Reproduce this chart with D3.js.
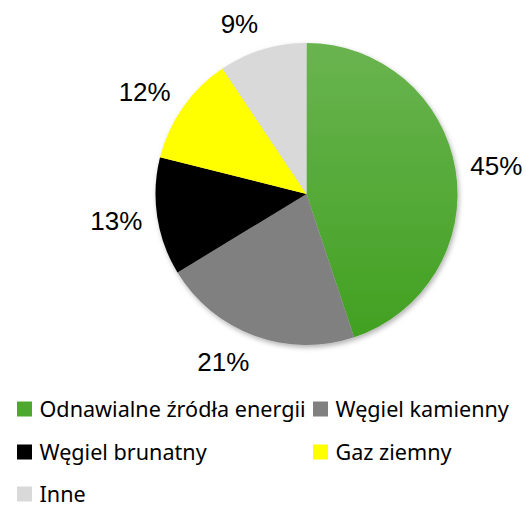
<!DOCTYPE html>
<html><head><meta charset="utf-8">
<script src="https://cdn.jsdelivr.net/npm/d3@7"></script>
<style>body{margin:0;background:#fff}svg{display:block}</style>
</head><body>
<script>
const categories = ["Odnawialne źródła energii", "Węgiel kamienny", "Węgiel brunatny", "Gaz ziemny", "Inne"];
const values = [44.9, 21.4, 12.6, 11.7, 9.4];
const colors = ["url(#greenGrad)", "#808080", "#000000", "#ffff00", "#d9d9d9"];
const legendColors = ["#4ea72e", "#808080", "#000000", "#ffff00", "#d9d9d9"];

const W = 526, H = 505;
const cx = 306.5, cy = 194, r = 151;
const svg = d3.select("body").append("svg").attr("width", W).attr("height", H);
const defs = svg.append("defs");
const g1 = defs.append("linearGradient").attr("id", "greenGrad")
  .attr("gradientUnits", "userSpaceOnUse").attr("x1", 0).attr("y1", -r).attr("x2", 0).attr("y2", r);
g1.append("stop").attr("offset", "0%").attr("stop-color", "#6ab450");
g1.append("stop").attr("offset", "100%").attr("stop-color", "#40a020");
const f = defs.append("filter").attr("id", "shadow").attr("x", "-20%").attr("y", "-20%").attr("width", "140%").attr("height", "140%");
f.append("feDropShadow").attr("dx", 1.5).attr("dy", 2.5).attr("stdDeviation", 2.5).attr("flood-color", "#000").attr("flood-opacity", 0.3);

const total = d3.sum(values);
const pie = d3.pie().sort(null).value(d => d);
const arcs = pie(values);
const arc = d3.arc().innerRadius(0).outerRadius(r);

const gp = svg.append("g").attr("transform", `translate(${cx},${cy})`).attr("filter", "url(#shadow)");
gp.selectAll("path").data(arcs).join("path")
  .attr("d", arc).attr("fill", (d, i) => colors[i]);

const fmt = v => d3.format(".0f")(v / total * 100) + "%";
const labelFont = 26;
const lg = svg.append("g").attr("transform", `translate(${cx},${cy})`)
  .style("font-family", "'Liberation Sans', Arial, sans-serif").style("font-size", labelFont + "px").attr("fill", "#000");
arcs.forEach((a, i) => {
  const t = lg.append("text").text(fmt(a.value)).attr("text-anchor", "middle");
  const w = t.node().getComputedTextLength();
  const h = 24;
  const th = (a.startAngle + a.endAngle) / 2;
  const s = Math.sin(th), c = Math.cos(th);
  const d = r + 15;
  const x = d * s + Math.sign(s) * (w / 2);
  const y = -d * c - (h / 2) * c;
  t.attr("x", x).attr("y", y + 9.5);
});

// legend
const leg = svg.append("g").style("font-family", "'Noto Sans', sans-serif").style("font-size", "21.6px").attr("fill", "#000");
const colX = [17, 313], rowY = [417, 460, 502];
categories.forEach((name, i) => {
  const col = i % 2, row = Math.floor(i / 2);
  const x = colX[col], y = rowY[row];
  leg.append("rect").attr("x", x).attr("y", y - 15.5).attr("width", 15).attr("height", 15).attr("fill", legendColors[i]);
  leg.append("text").attr("x", x + 22.5).attr("y", y).text(name);
});
</script>
</body></html>
